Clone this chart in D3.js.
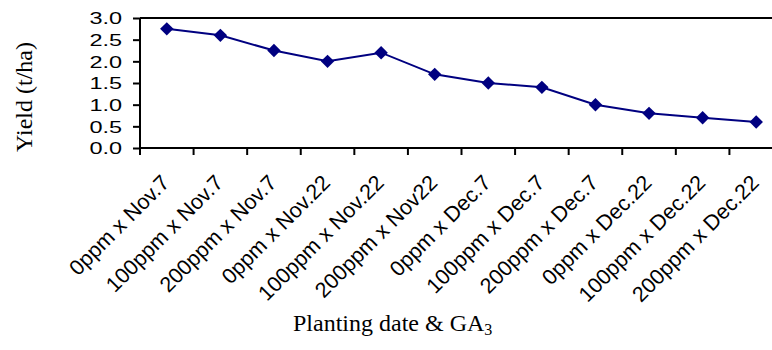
<!DOCTYPE html>
<html>
<head>
<meta charset="utf-8">
<script src="https://cdn.jsdelivr.net/npm/d3@7"></script>
<style>
  html, body { margin: 0; padding: 0; background: #fff; }
  svg { display: block; }
</style>
</head>
<body>
<svg id="chart" width="772" height="350"></svg>
<script>
const categories = ["0ppm x Nov.7", "100ppm x Nov.7", "200ppm x Nov.7", "0ppm x Nov.22", "100ppm x Nov.22", "200ppm x Nov22",
  "0ppm x Dec.7", "100ppm x Dec.7", "200ppm x Dec.7", "0ppm x Dec.22", "100ppm x Dec.22", "200ppm x Dec.22"];
const yieldValues = [2.75, 2.6, 2.25, 2.0, 2.2, 1.7, 1.5, 1.4, 1.0, 0.8, 0.7, 0.6];
const yTicks = [0, 0.5, 1.0, 1.5, 2.0, 2.5, 3.0];
const yTitle = "Yield (t/ha)";
const xTitle = "Planting date & GA";
const xTitleSub = "3";

const svg = d3.select("#chart");
const plotLeft = 140, plotTop = 18, plotBottom = 148, plotRight = 783;
const navy = "#000080";

const x = d3.scaleBand().domain(categories).range([plotLeft, plotRight]);
const y = d3.scaleLinear().domain([0, 3]).range([plotBottom, plotTop]);

// top border of plot area
svg.append("line").attr("x1", plotLeft).attr("x2", plotRight).attr("y1", plotTop).attr("y2", plotTop)
  .attr("stroke", "#000").attr("stroke-width", 2);

// y axis
const yAxis = svg.append("g").attr("transform", `translate(${plotLeft},0)`)
  .call(d3.axisLeft(y).tickValues(yTicks).tickFormat(d3.format(".1f")).tickSize(7).tickPadding(0));
yAxis.select(".domain").attr("stroke", "#000").attr("stroke-width", 2).attr("d", `M0,${plotTop}V${plotBottom}`);
yAxis.selectAll(".tick line").attr("stroke", "#000").attr("stroke-width", 2);
yAxis.selectAll(".tick text")
  .attr("font-family", "'Liberation Sans', Arial, sans-serif").attr("font-size", 17).attr("fill", "#000")
  .attr("x", 0).attr("dy", "0.35em")
  .attr("text-anchor", "end")
  .attr("transform", "translate(-18,0) scale(1.38,1)");

// x axis
const xAxis = svg.append("g").attr("transform", `translate(0,${plotBottom})`)
  .call(d3.axisBottom(x).tickSize(0).tickPadding(0));
xAxis.select(".domain").attr("stroke", "#000").attr("stroke-width", 2).attr("d", `M${plotLeft},0H${plotRight}`);
// category boundary ticks
const bounds = d3.range(categories.length).map(i => x(categories[i]));
xAxis.selectAll(".bound").data(bounds).join("line").attr("class", "bound")
  .attr("x1", d => d).attr("x2", d => d).attr("y1", 0).attr("y2", 7)
  .attr("stroke", "#000").attr("stroke-width", 2);
xAxis.selectAll(".tick text")
  .attr("font-family", "'Liberation Sans', Arial, sans-serif").attr("font-size", 21.5).attr("fill", "#000")
  .attr("text-anchor", "end").attr("y", 0).attr("dy", 0)
  .attr("transform", "translate(4,36) rotate(-45)");

// line + markers
const lineGen = d3.line().x((d, i) => x(categories[i]) + x.bandwidth() / 2).y(d => y(d));
svg.append("path").datum(yieldValues).attr("d", lineGen)
  .attr("fill", "none").attr("stroke", navy).attr("stroke-width", 2);
svg.selectAll(".pt").data(yieldValues).join("path").attr("class", "pt")
  .attr("d", d3.symbol(d3.symbolSquare, 90))
  .attr("transform", (d, i) => `translate(${x(categories[i]) + x.bandwidth() / 2},${y(d)}) rotate(45)`)
  .attr("fill", navy);

// titles
svg.append("text")
  .attr("transform", "translate(32,97) rotate(-90)")
  .attr("text-anchor", "middle")
  .attr("font-family", "'Liberation Serif', 'Times New Roman', serif").attr("font-size", 24)
  .attr("font-weight", "normal")
  .attr("fill", "#000").text(yTitle);

const xt = svg.append("text")
  .attr("x", 293).attr("y", 331)
  .attr("font-family", "'Liberation Serif', 'Times New Roman', serif").attr("font-size", 24)
  .attr("fill", "#000");
xt.append("tspan").text(xTitle);
xt.append("tspan").attr("font-size", 16).attr("dy", 4).text(xTitleSub);
</script>
</body>
</html>
